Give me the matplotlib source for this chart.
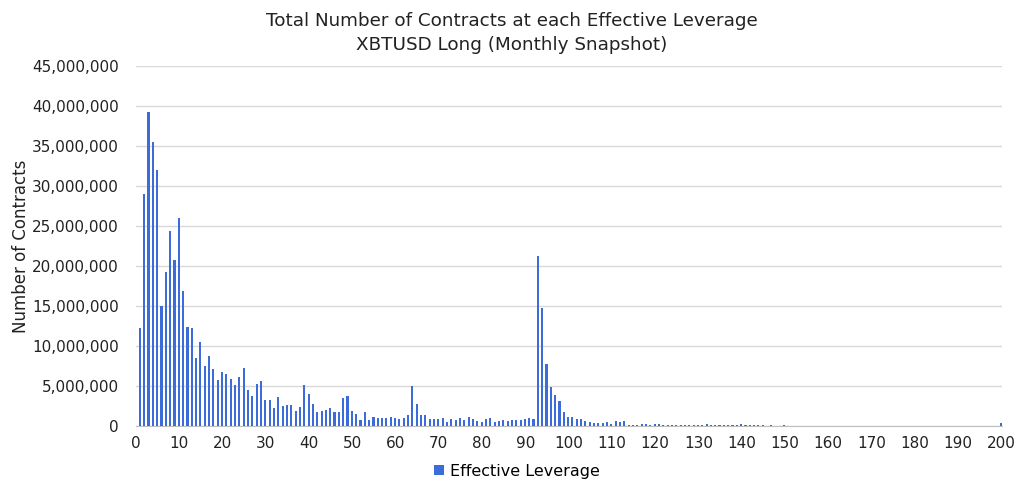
import numpy as np
import matplotlib
matplotlib.use("Agg")
from matplotlib import pyplot as plt
from matplotlib.ticker import FuncFormatter, MultipleLocator

plt.rcParams["font.family"] = ["DejaVu Sans"]

# contracts (millions) at leverage 1..200
contracts_1_30 = [12.2, 29.0, 39.3, 35.5, 32.0, 15.0, 19.3, 24.4, 20.8, 26.0,
                  16.9, 12.4, 12.3, 8.5, 10.5, 7.5, 8.7, 7.1, 5.7, 6.8,
                  6.5, 5.9, 5.1, 6.1, 7.3, 4.5, 3.8, 5.2, 5.6, 3.3]
contracts_31_70 = [3.25, 2.3, 3.6, 2.5, 2.6, 2.6, 1.9, 2.4, 5.1, 4.0,
                   2.8, 1.8, 1.9, 2.0, 2.2, 1.7, 1.75, 3.5, 3.75, 1.9,
                   1.5, 0.8, 1.75, 0.75, 1.1, 1.0, 1.05, 1.05, 1.1, 1.05,
                   0.85, 1.05, 1.4, 5.0, 2.7, 1.4, 1.4, 0.85, 0.85, 0.85]
contracts_71_92 = [1.0, 0.55, 0.9, 0.8, 1.0, 0.8, 1.1, 0.85, 0.65, 0.45, 0.85,
                   1.0, 0.55, 0.65, 0.8, 0.65, 0.75, 0.75, 0.8, 0.85, 1.05, 0.85]
contracts_93_113 = [21.2, 14.7, 7.75, 4.9, 3.9, 3.1, 1.7, 1.08, 1.08, 0.83, 0.88,
                    0.6, 0.5, 0.42, 0.42, 0.38, 0.5, 0.25, 0.6, 0.5, 0.67]
contracts_114_200 = [0.17, 0.17, 0.17, 0.2, 0.3, 0.17, 0.2,
                     0.2, 0.17, 0.15, 0.15, 0.18, 0.15, 0.12, 0.15, 0.12, 0.1, 0.12,
                     0.3, 0.12, 0.1, 0.1, 0.12, 0.1, 0.08, 0.1, 0.25,
                     0.1, 0.08, 0.08, 0.1, 0.07, 0.06, 0.08, 0.06, 0.05, 0.1,
                     0.05, 0.04, 0.05, 0.04, 0.04, 0.05, 0.04, 0.03, 0.04, 0.06,
                     0.03, 0.04, 0.03, 0.03, 0.04, 0.03, 0.03, 0.03, 0.02, 0.05,
                     0.03, 0.02, 0.03, 0.02, 0.02, 0.03, 0.02, 0.02, 0.02, 0.04,
                     0.02, 0.02, 0.02, 0.02, 0.03, 0.02, 0.02, 0.02, 0.02, 0.03,
                     0.02, 0.02, 0.02, 0.02, 0.02, 0.02, 0.02, 0.02, 0.03, 0.4]

contracts = np.array(contracts_1_30 + contracts_31_70 + contracts_71_92
                     + contracts_93_113 + contracts_114_200) * 1e6
leverage = np.arange(1, len(contracts) + 1)

fig = plt.figure(figsize=(10.24, 4.9), dpi=100)
ax = fig.add_axes([0.1328, 0.1306, 0.8457, 0.7347])

ax.bar(leverage - 0.1, contracts, width=0.48, color="#3B6CD9",
       label="Effective Leverage", zorder=3)

ax.set_xlim(0, 200.2)
ax.set_ylim(0, 45e6)
ax.xaxis.set_major_locator(MultipleLocator(10))
ax.yaxis.set_major_locator(MultipleLocator(5e6))
ax.yaxis.set_major_formatter(FuncFormatter(lambda v, p: "{:,.0f}".format(v)))
ax.tick_params(axis="both", length=0, labelsize=11, colors="#222222")
ax.tick_params(axis="x", pad=7)
ax.tick_params(axis="y", pad=12.5)
ax.grid(axis="y", color="#D9D9D9", linewidth=1, zorder=0)
for s in ["top", "right", "left"]:
    ax.spines[s].set_visible(False)
ax.spines["bottom"].set_color("#BFBFBF")

ax.set_ylabel("Number of Contracts", fontsize=12, color="#222222")
ax.yaxis.set_label_coords(-0.122, 0.5)
fig.text(0.5, 0.958, "Total Number of Contracts at each Effective Leverage",
         ha="center", va="center", fontsize=13.2, color="#222222")
fig.text(0.5, 0.908, "XBTUSD Long (Monthly Snapshot)",
         ha="center", va="center", fontsize=13.2, color="#222222")

fig.legend(loc="center", bbox_to_anchor=(0.505, 0.038), frameon=False,
           fontsize=11.5, handlelength=0.6, handleheight=0.6, handletextpad=0.4)

fig.savefig("out.png", dpi=100)
